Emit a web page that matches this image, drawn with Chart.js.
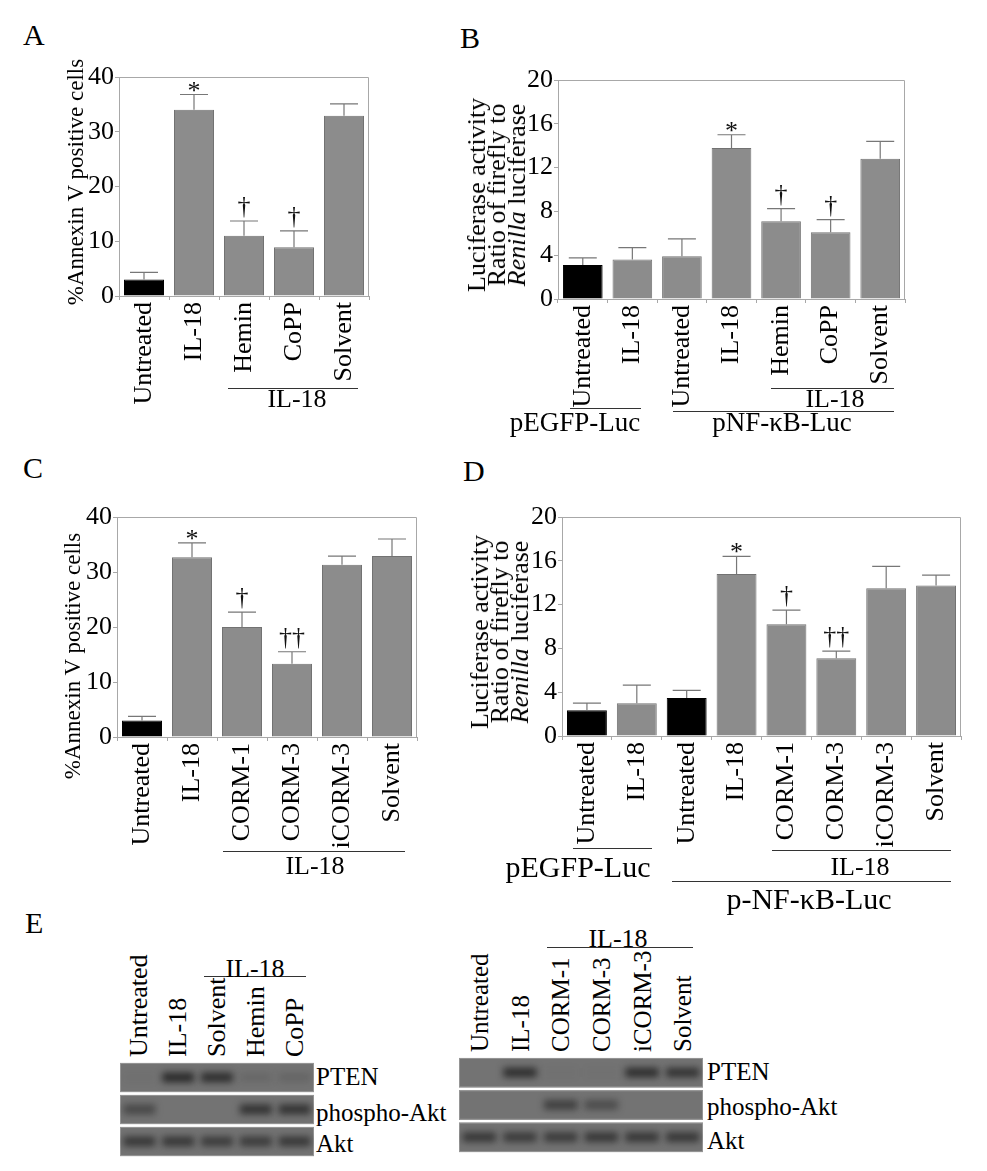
<!DOCTYPE html>
<html>
<head>
<meta charset="utf-8">
<script src="https://cdn.jsdelivr.net/npm/chart.js@4.4.1/dist/chart.umd.min.js"></script>
<style>
  body { margin: 0; background: #fff; }
  #fig { position: relative; width: 987px; height: 1171px; overflow: hidden;
         font-family: "Liberation Serif", "Times New Roman", serif; color: #000; }
  #fig canvas { position: absolute; }
  .t { position: absolute; line-height: 1; white-space: nowrap; }
  .c { transform: translateX(-50%); }
  .rot { transform: translate(-50%, -50%) rotate(-90deg); text-align: center; }
  .lane { transform: rotate(-90deg); transform-origin: 0 0; }
  .ln { position: absolute; height: 1.3px; background: #333; }
  .letter { font-size: 30px; }
</style>
</head>
<body>
<div id="fig">
  <!-- panel letters -->
  <div class="t letter" style="left:23px;top:20px">A</div>
  <div class="t letter" style="left:460px;top:23px">B</div>
  <div class="t letter" style="left:23px;top:453px">C</div>
  <div class="t letter" style="left:463px;top:456px">D</div>
  <div class="t letter" style="left:25px;top:908px">E</div>

  <!-- charts -->
  <canvas id="cA" width="315" height="369" style="left:74px;top:57px"></canvas>
  <canvas id="cB" width="412" height="369" style="left:513px;top:60px"></canvas>
  <canvas id="cC" width="365" height="370" style="left:72px;top:497px"></canvas>
  <canvas id="cD" width="464" height="369" style="left:517px;top:497px"></canvas>
  <canvas id="cE1" width="194" height="96" style="left:120px;top:1062px"></canvas>
  <canvas id="cE2" width="244" height="97" style="left:459px;top:1057px"></canvas>

  <!-- y axis titles -->
  <div class="t rot" style="left:75px;top:182px;font-size:23px">%Annexin V positive cells</div>
  <div class="t rot" style="left:72px;top:656px;font-size:23px">%Annexin V positive cells</div>
  <div class="t rot" style="left:497px;top:195px;font-size:26px;line-height:20px">Luciferase activity<br>Ratio of firefly to<br><i>Renilla</i> luciferase</div>
  <div class="t rot" style="left:500px;top:632px;font-size:26px;line-height:20px">Luciferase activity<br>Ratio of firefly to<br><i>Renilla</i> luciferase</div>

  <!-- group labels A -->
  <div class="ln" style="left:228px;top:388px;width:130px"></div>
  <div class="t c" style="left:297px;top:386px;font-size:26px">IL-18</div>

  <!-- group labels B -->
  <div class="ln" style="left:771px;top:388px;width:123px"></div>
  <div class="t c" style="left:835px;top:386px;font-size:26px">IL-18</div>
  <div class="ln" style="left:570px;top:408px;width:71px"></div>
  <div class="t c" style="left:575px;top:409px;font-size:27px">pEGFP-Luc</div>
  <div class="ln" style="left:673px;top:411px;width:221px"></div>
  <div class="t c" style="left:782px;top:409px;font-size:27px">pNF-κB-Luc</div>

  <!-- group labels C -->
  <div class="ln" style="left:223px;top:851px;width:182px"></div>
  <div class="t c" style="left:315px;top:853px;font-size:26px">IL-18</div>

  <!-- group labels D -->
  <div class="ln" style="left:573px;top:848px;width:79px"></div>
  <div class="t c" style="left:578px;top:852px;font-size:30px">pEGFP-Luc</div>
  <div class="ln" style="left:772px;top:850px;width:179px"></div>
  <div class="t c" style="left:860px;top:854px;font-size:26px">IL-18</div>
  <div class="ln" style="left:672px;top:881px;width:279px"></div>
  <div class="t c" style="left:809px;top:884px;font-size:30px">p-NF-κB-Luc</div>

  <!-- E headers and row names -->
  <div class="ln" style="left:204px;top:976px;width:102px"></div>
  <div class="t c" style="left:255px;top:956px;font-size:26px">IL-18</div>
  <div class="ln" style="left:547px;top:947px;width:146px"></div>
  <div class="t c" style="left:618px;top:926px;font-size:26px">IL-18</div>

  <div class="t" style="left:316px;top:1064px;font-size:25px">PTEN</div>
  <div class="t" style="left:316px;top:1100px;font-size:25px">phospho-Akt</div>
  <div class="t" style="left:316px;top:1131px;font-size:25px">Akt</div>
  <div class="t" style="left:707px;top:1059px;font-size:25px">PTEN</div>
  <div class="t" style="left:707px;top:1094px;font-size:25px">phospho-Akt</div>
  <div class="t" style="left:707px;top:1128px;font-size:25px">Akt</div>
</div>

<script>
// ---- data ----
// A: annexin V, HO-1 inducers
const catA = ['Untreated', 'IL-18', 'Hemin', 'CoPP', 'Solvent'];
const meanA = [3.0, 34.0, 11.0, 8.9, 32.9];
const semA = [1.3, 2.8, 2.7, 3.0, 2.2];
const sigA = ['', '*', '†', '†', ''];
const ctrlA = [0];
const tickA = [0, 10, 20, 30, 40];

// B: luciferase, HO-1 inducers
const catB = ['Untreated', 'IL-18', 'Untreated', 'IL-18', 'Hemin', 'CoPP', 'Solvent'];
const meanB = [3.1, 3.6, 3.9, 13.8, 7.1, 6.1, 12.8];
const semB = [0.65, 1.1, 1.6, 1.2, 1.15, 1.15, 1.6];
const sigB = ['', '', '', '*', '†', '†', ''];
const ctrlB = [0];
const tickB = [0, 4, 8, 12, 16, 20];

// C: annexin V, CO releasing molecules
const catC = ['Untreated', 'IL-18', 'CORM-1', 'CORM-3', 'iCORM-3', 'Solvent'];
const meanC = [3.0, 32.7, 20.0, 13.3, 31.3, 32.9];
const semC = [0.75, 2.6, 2.7, 2.2, 1.6, 3.1];
const sigC = ['', '*', '†', '††', '', ''];
const ctrlC = [0];
const tickC = [0, 10, 20, 30, 40];

// D: luciferase, CO releasing molecules
const catD = ['Untreated', 'IL-18', 'Untreated', 'IL-18', 'CORM-1', 'CORM-3', 'iCORM-3', 'Solvent'];
const meanD = [2.35, 3.0, 3.47, 14.8, 10.2, 7.1, 13.5, 13.75];
const semD = [0.65, 1.65, 0.7, 1.6, 1.3, 0.65, 2.0, 0.95];
const sigD = ['', '', '', '*', '†', '††', '', ''];
const ctrlD = [0, 2];
const tickD = [0, 4, 8, 12, 16, 20];

// E: western blots, band intensity 0..1 per lane
const blotRows = ['PTEN', 'phospho-Akt', 'Akt'];
const lanesE1 = ['Untreated', 'IL-18', 'Solvent', 'Hemin', 'CoPP'];
const ptenE1 = [0.04, 0.85, 0.8, 0.12, 0.15];
const pAktE1 = [0.5, 0, 0, 0.75, 0.75];
const aktE1 = [0.7, 0.7, 0.65, 0.65, 0.7];
const lanesE2 = ['Untreated', 'IL-18', 'CORM-1', 'CORM-3', 'iCORM-3', 'Solvent'];
const ptenE2 = [0, 0.8, 0.03, 0.03, 0.8, 0.75];
const pAktE2 = [0, 0, 0.6, 0.45, 0, 0];
const aktE2 = [0.7, 0.65, 0.65, 0.7, 0.7, 0.7];

// ---- drawing ----
const SERIF = '"Liberation Serif", "Times New Roman", serif';
const FRAME = '#a8a8a8';
const GRAYBAR = '#8c8c8c';

function barChart(id, cats, means, sems, sigs, ctrls, ticks) {
  const errBars = {
    id: 'errBars',
    afterDatasetsDraw(chart) {
      const { ctx, chartArea: a, scales: { x, y } } = chart;
      ctx.save();
      // box around the plot
      ctx.strokeStyle = FRAME;
      ctx.lineWidth = 1;
      ctx.beginPath();
      ctx.moveTo(a.left, a.top + 0.5);
      ctx.lineTo(a.right - 0.5, a.top + 0.5);
      ctx.lineTo(a.right - 0.5, a.bottom);
      ctx.stroke();
      // upper error whiskers and significance marks
      ctx.strokeStyle = '#777';
      ctx.lineWidth = 1.2;
      ctx.font = '26px ' + SERIF;
      ctx.fillStyle = '#111';
      ctx.textAlign = 'center';
      means.forEach((m, i) => {
        const px = x.getPixelForValue(i);
        const y0 = y.getPixelForValue(m);
        const y1 = y.getPixelForValue(m + sems[i]);
        ctx.beginPath();
        ctx.moveTo(px, y0);
        ctx.lineTo(px, y1);
        ctx.moveTo(px - 14, y1);
        ctx.lineTo(px + 14, y1);
        ctx.stroke();
        if (sigs[i]) {
          const mt = ctx.measureText(sigs[i]);
          ctx.fillText(sigs[i], px, y1 - 3 - mt.actualBoundingBoxDescent);
        }
      });
      ctx.restore();
    }
  };

  return new Chart(document.getElementById(id), {
    type: 'bar',
    data: {
      labels: cats,
      datasets: [{
        data: means,
        backgroundColor: cats.map((c, i) => ctrls.includes(i) ? '#000' : GRAYBAR),
        borderColor: cats.map((c, i) => ctrls.includes(i) ? '#000' : '#727272'),
        borderWidth: 1,
        barPercentage: 0.8,
        categoryPercentage: 1
      }]
    },
    options: {
      responsive: false,
      animation: false,
      devicePixelRatio: 1,
      layout: { padding: { top: 20, right: 20, left: 0, bottom: 0 } },
      plugins: { legend: { display: false }, tooltip: { enabled: false } },
      scales: {
        x: {
          grid: { offset: true, drawOnChartArea: false, tickLength: 4, color: FRAME },
          border: { color: FRAME },
          ticks: { minRotation: 90, maxRotation: 90, autoSkip: false, padding: 2, color: '#000',
                   font: { family: SERIF, size: 26 } },
          afterFit: s => { s.height = 130; }
        },
        y: {
          min: ticks[0],
          max: ticks[ticks.length - 1],
          afterBuildTicks: s => { s.ticks = ticks.map(v => ({ value: v })); },
          grid: { drawOnChartArea: false, tickLength: 4, color: FRAME },
          border: { color: FRAME },
          ticks: { padding: 1, color: '#000', font: { family: SERIF, size: 26 } },
          afterFit: s => { s.width = 45; }
        }
      }
    },
    plugins: [errBars]
  });
}

function blotChart(id, lanes, rows, laneFont) {
  const canvas = document.getElementById(id);
  const blot = {
    id: 'blot',
    beforeDatasetsDraw(chart) {
      const { ctx, chartArea: a, scales: { y } } = chart;
      ctx.save();
      rows.forEach((r, i) => {
        const t = y.getPixelForValue(i + 0.03);
        const b = y.getPixelForValue(i + 0.94);
        ctx.fillStyle = '#737373';
        ctx.fillRect(a.left, t, a.right - a.left, b - t);
        ctx.strokeStyle = '#959595';
        ctx.lineWidth = 1;
        ctx.strokeRect(a.left + 0.5, t + 0.5, a.right - a.left - 1, b - t - 1);
      });
      ctx.restore();
      ctx.save();
      ctx.filter = 'blur(3.5px)';
    },
    afterDatasetsDraw(chart) {
      chart.ctx.restore();
    }
  };

  const chart = new Chart(canvas, {
    type: 'bar',
    data: {
      labels: lanes,
      datasets: rows.map((r, i) => ({
        data: lanes.map(() => [i + 0.33, i + 0.63]),
        backgroundColor: r.map(v => `rgba(28,28,28,${v})`),
        borderWidth: 0,
        grouped: false,
        barPercentage: 0.82,
        categoryPercentage: 1
      }))
    },
    options: {
      responsive: false,
      animation: false,
      devicePixelRatio: 1,
      layout: { padding: 0 },
      plugins: { legend: { display: false }, tooltip: { enabled: false } },
      scales: {
        x: { display: false },
        y: { display: false, min: 0, max: blotRows.length, reverse: true }
      }
    },
    plugins: [blot]
  });

  // lane names, placed on the chart's own lane positions
  const fig = document.getElementById('fig');
  lanes.forEach((name, i) => {
    const d = document.createElement('div');
    d.className = 't lane';
    d.textContent = name;
    d.style.fontSize = laneFont + 'px';
    d.style.left = (canvas.offsetLeft + chart.scales.x.getPixelForValue(i) - laneFont / 2) + 'px';
    d.style.top = (canvas.offsetTop - 5) + 'px';
    fig.appendChild(d);
  });
  return chart;
}

barChart('cA', catA, meanA, semA, sigA, ctrlA, tickA);
barChart('cB', catB, meanB, semB, sigB, ctrlB, tickB);
barChart('cC', catC, meanC, semC, sigC, ctrlC, tickC);
barChart('cD', catD, meanD, semD, sigD, ctrlD, tickD);
blotChart('cE1', lanesE1, [ptenE1, pAktE1, aktE1], 26);
blotChart('cE2', lanesE2, [ptenE2, pAktE2, aktE2], 25);
</script>
</body>
</html>
